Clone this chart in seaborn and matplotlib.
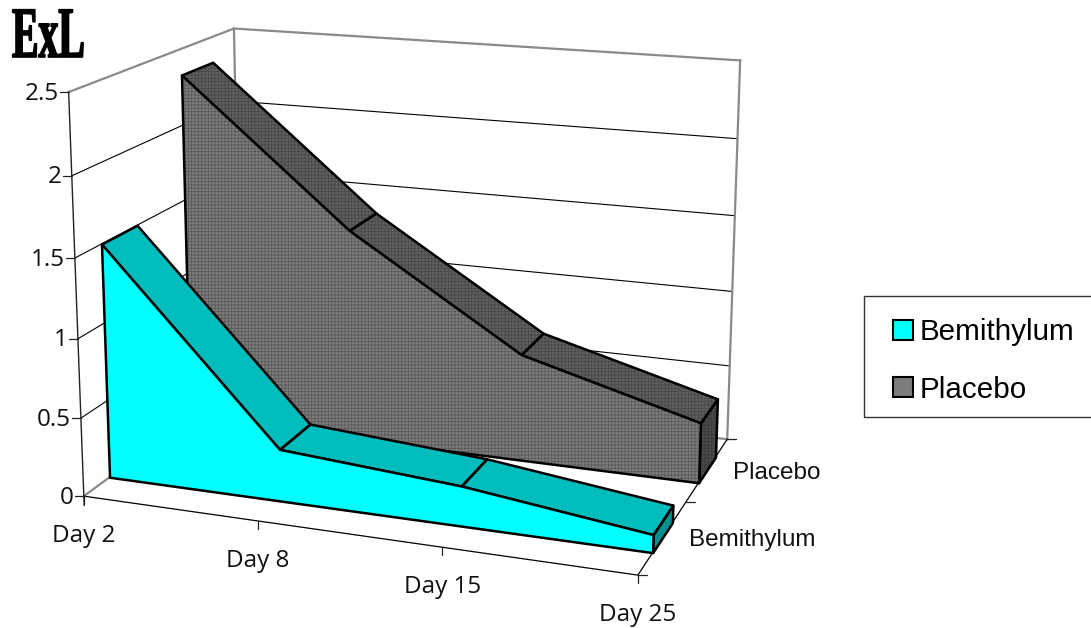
import numpy as np
import matplotlib
matplotlib.use("Agg")
import matplotlib.pyplot as plt
import seaborn as sns
from matplotlib.lines import Line2D
from matplotlib.patches import Patch, Rectangle
from matplotlib.patheffects import AbstractPathEffect
from matplotlib.transforms import Affine2D
from mpl_toolkits.mplot3d.art3d import Poly3DCollection

# ---- data ----
days = ["Day 2", "Day 8", "Day 15", "Day 25"]
bemithylum = [1.50, 0.33, 0.25, 0.11]
placebo = [2.33, 1.40, 0.70, 0.39]
series_names = ["Bemithylum", "Placebo"]
value_ticks = [0, 0.5, 1, 1.5, 2, 2.5]
value_labels = ["0", "0.5", "1", "1.5", "2", "2.5"]

WIDTH, HEIGHT = 1091, 628
X_MAX, Y_MAX, Z_MAX = 3.0, 2.0, 2.5
SLAB_DEPTHS = [(0.29, 0.70), (1.29, 1.70)]

sns.set_theme(style="white")
plt.rcParams["hatch.linewidth"] = 0.55
LABEL_FONT = "Open Sans"
CATEGORY_FONT = "Liberation Sans"

# Camera: where the corners and ticks of the plot box fall on the canvas.
box_world = np.array([
    [0, 0, 0], [3, 0, 0], [3, 2, 0], [0, 2, 0],
    [0, 0, 2.5], [3, 2, 2.5], [0, 2, 2.5],
    [0, 0, 2], [0, 0, 1], [3, 2, 2], [3, 2, 1],
], float)
box_pixels = np.array([
    [84, 496], [638, 576], [727, 439], [241, 382],
    [68, 93], [741, 61], [234, 28],
    [72, 176], [78, 337], [737, 139], [732, 290],
], float)


def fit_camera(world, pixels):
    rows = []
    for (x, y, z), (u, v) in zip(world, pixels):
        rows.append([x, y, z, 1, 0, 0, 0, 0, -u * x, -u * y, -u * z, -u])
        rows.append([0, 0, 0, 0, x, y, z, 1, -v * x, -v * y, -v * z, -v])
    return np.linalg.svd(np.array(rows))[2][-1].reshape(3, 4)


CAMERA = fit_camera(box_world, box_pixels)


def to_pixels(x, y, z):
    u, v, w = CAMERA @ np.array([x, y, z, 1.0])
    return u / w, v / w


fig = plt.figure(figsize=(WIDTH / 100, HEIGHT / 100), dpi=100, facecolor="white")
ax = fig.add_axes([0, 0, 1, 1], projection="3d", computed_zorder=False)
ax.set_axis_off()
ax.set_proj_type("ortho")
ax.patch.set_alpha(0)
ax.apply_aspect = lambda position=None: None

# Feed the camera to the 3D axes as its projection, expressed in its 2D view limits.
(x0, x1), (y0, y1) = ax.viewLim.intervalx, ax.viewLim.intervaly
row_u = (CAMERA[0] / WIDTH) * (x1 - x0) + CAMERA[2] * x0
row_v = CAMERA[2] * y1 - (CAMERA[1] / HEIGHT) * (y1 - y0)
projection = np.vstack([row_u, row_v, [0.0, 1.0, 0.0, 0.0], CAMERA[2]])
ax.get_proj = lambda: projection

CLEAR = (0, 0, 0, 0)


def line3d(xs, ys, zs, color="black", lw=0.8, zorder=1):
    ax.plot(xs, ys, zs, color=color, lw=lw, zorder=zorder, solid_capstyle="projecting")


def face(verts, color, hatch=None, hatch_color=None, zorder=3):
    verts = [list(verts)]
    if hatch:
        ax.add_collection3d(Poly3DCollection(verts, facecolor=color, edgecolor=hatch_color,
                                             linewidth=0, hatch=hatch, zorder=zorder),
                            autolim=False)
    else:
        ax.add_collection3d(Poly3DCollection(verts, facecolor=color, edgecolor=color,
                                             linewidth=0, zorder=zorder), autolim=False)
    ax.add_collection3d(Poly3DCollection(verts, facecolor=CLEAR, edgecolor="black",
                                         linewidth=1.8, zorder=zorder + 0.1), autolim=False)


def canvas_line(us, vs, color="black", lw=0.8):
    fig.add_artist(Line2D(np.array(us) / WIDTH, 1 - np.array(vs) / HEIGHT, color=color, lw=lw))


def canvas_text(u, v, text, **kwargs):
    return fig.text(u / WIDTH, 1 - v / HEIGHT, text, **kwargs)


# Walls and gridlines
WALL = "#8a8a8a"
for tick in value_ticks[1:-1]:
    line3d([0, 0, 3], [0, 2, 2], [tick, tick, tick])
line3d([0, 0, 3], [0, 2, 2], [Z_MAX] * 3, color=WALL, lw=1.6)
line3d([0, 0], [2, 2], [0, Z_MAX], color=WALL, lw=1.6)
line3d([3, 3], [2, 2], [0, Z_MAX], color=WALL, lw=1.6)
line3d([0, 0, 3], [0, 2, 2], [0, 0, 0], color=WALL, lw=1.6)

# Axis lines of the floor and the value axis
line3d([0, 3, 3], [0, 0, 2], [0, 0, 0], lw=0.9, zorder=2)
line3d([0, 0], [0, 0], [-0.06, Z_MAX], color="#222222", lw=1.0, zorder=2)

# Slabs, back series first
slab_styles = [
    dict(front="#00FFFF", top="#00BDBD", side="#009090", hatch=None),
    dict(front="#7d7d7d", top="#5f5f5f", side="#4a4a4a", hatch="+++++"),
]
for idx in (1, 0):
    values = [bemithylum, placebo][idx]
    y_front, y_back = SLAB_DEPTHS[idx]
    st = slab_styles[idx]
    xs = np.arange(len(values), dtype=float)
    z_order = 3 + (1 - idx) * 2
    side_hatch = "#3a3a3a" if st["hatch"] else None
    face([(X_MAX, y_front, 0), (X_MAX, y_back, 0), (X_MAX, y_back, values[-1]),
          (X_MAX, y_front, values[-1])], st["side"], st["hatch"], side_hatch, z_order)
    for k in range(len(values) - 1):
        face([(xs[k], y_front, values[k]), (xs[k + 1], y_front, values[k + 1]),
              (xs[k + 1], y_back, values[k + 1]), (xs[k], y_back, values[k])],
             st["top"], st["hatch"], "#484848" if st["hatch"] else None, z_order)
    outline = [(x, y_front, v) for x, v in zip(xs, values)]
    outline += [(X_MAX, y_front, 0), (0.0, y_front, 0)]
    face(outline, st["front"], st["hatch"], "#585858" if st["hatch"] else None, z_order + 0.5)

# Tick marks and tick labels
for tick, label in zip(value_ticks, value_labels):
    u, v = to_pixels(0, 0, tick)
    canvas_line([u - 9, u], [v, v], color="#222222", lw=0.9)
    canvas_text(u - 10, v + 1.5, label, ha="right", va="center", fontsize=17.5,
                family=LABEL_FONT, color="#111111")
for k, day in enumerate(days):
    u, v = to_pixels(k, 0, 0)
    canvas_line([u, u], [v, v + 8], color="#222222", lw=0.9)
    canvas_text(u, v + 40, day, ha="center", va="center", fontsize=17.5,
                family=LABEL_FONT, color="#111111")
for k in range(3):
    u, v = to_pixels(3, k, 0)
    canvas_line([u, u + 9], [v, v], color="#222222", lw=0.9)
for name, (lu, lv) in zip(series_names, [(689, 540), (733, 473)]):
    canvas_text(lu, lv, name, ha="left", va="center", fontsize=17.5,
                family=CATEGORY_FONT, color="#111111")


class Condensed(AbstractPathEffect):
    """Narrows glyphs horizontally around an anchor and fattens them slightly."""

    def __init__(self, anchor, factor, stroke):
        super().__init__()
        self.anchor, self.factor, self.stroke = anchor, factor, stroke

    def draw_path(self, renderer, gc, tpath, affine, rgbFace):
        squeeze = affine + Affine2D().translate(-self.anchor, 0).scale(self.factor, 1).translate(self.anchor, 0)
        gc0 = renderer.new_gc()
        gc0.copy_properties(gc)
        gc0.set_linewidth(self.stroke)
        gc0.set_foreground("black")
        renderer.draw_path(gc0, tpath, squeeze, rgbFace)
        gc0.restore()


canvas_text(12, 57, "ExL", ha="left", va="baseline", fontsize=52, family="Liberation Serif",
            weight="bold", color="black",
            path_effects=[Condensed(12, 0.55, 1.2)])

# Legend
fig.add_artist(Rectangle((864 / WIDTH, 1 - 417 / HEIGHT), 240 / WIDTH, 121 / HEIGHT,
                         facecolor="white", edgecolor="#333333", lw=1.0,
                         transform=fig.transFigure, clip_on=True))
handles = [
    Patch(facecolor="#00FFFF", edgecolor="black", lw=1.5),
    Patch(facecolor="#7d7d7d", edgecolor="black", lw=1.5),
]
legend = fig.legend(handles, series_names, loc="upper left", frameon=False,
                    bbox_to_anchor=(893 / WIDTH, 1 - 318 / HEIGHT), borderaxespad=0, borderpad=0,
                    prop={"family": CATEGORY_FONT, "size": 21.3}, labelspacing=1.0,
                    handlelength=0.66, handleheight=0.66, handletextpad=0.24, labelcolor="black")

fig.savefig("out.png", dpi=100)
